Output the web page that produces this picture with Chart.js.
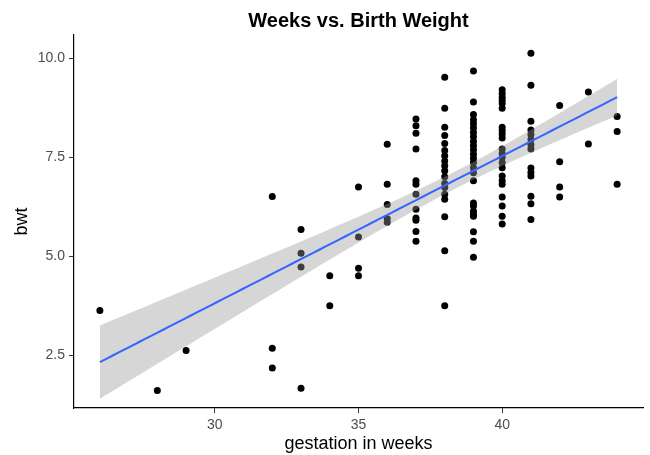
<!DOCTYPE html>
<html>
<head>
<meta charset="utf-8">
<script src="https://cdn.jsdelivr.net/npm/chart.js@4/dist/chart.umd.min.js"></script>
<style>
  html, body { margin: 0; padding: 0; background: #ffffff; }
  #wrap { width: 650px; height: 455px; }
</style>
</head>
<body>
<div id="wrap"><canvas id="c" width="650" height="455"></canvas></div>
<script>
// Gestation (weeks) and birth weight observations, grouped by week
const weeks = [26, 28, 29, 32, 33, 34, 35, 36, 37, 38, 39, 40, 41, 42, 43, 44];
const bwtByWeek = [
  [3.63],
  [1.61],
  [2.62],
  [6.51, 2.68, 2.18],
  [5.68, 5.08, 4.73, 1.67],
  [4.51, 3.75],
  [6.75, 5.49, 4.70, 4.51],
  [7.83, 6.82, 6.31, 5.95, 5.86],
  [8.47, 8.30, 8.11, 7.71, 6.91, 6.82, 6.57, 6.19, 5.97, 5.91, 5.63, 5.38],
  [9.52, 8.74, 8.26, 8.05, 7.85, 7.67, 7.54, 7.41, 7.29, 7.16, 7.01, 6.84, 6.74, 6.57, 6.44, 6.00, 5.14, 3.75],
  [9.68, 8.90, 8.58, 8.45, 8.35, 8.24, 8.13, 8.02, 7.90, 7.80, 7.69, 7.58, 7.47, 7.37, 7.24, 7.11, 6.91, 6.35, 6.27, 6.14, 6.06, 6.01, 5.62, 5.38, 4.98],
  [9.21, 9.11, 9.02, 8.94, 8.86, 8.74, 8.26, 8.18, 8.09, 7.99, 7.71, 7.60, 7.50, 7.37, 7.24, 7.03, 6.91, 6.82, 6.50, 6.27, 6.01, 5.82],
  [10.13, 9.32, 8.41, 8.19, 8.08, 7.95, 7.82, 7.71, 7.23, 7.12, 7.03, 6.52, 6.33, 5.93],
  [8.81, 7.39, 6.75, 6.50],
  [9.15, 7.84],
  [8.53, 8.15, 6.82]
];
const xTicks = [30, 35, 40];
const yTicks = [2.5, 5.0, 7.5, 10.0];

// Flatten into scatter points
const points = [];
weeks.forEach((w, i) => bwtByWeek[i].forEach(v => points.push({ x: w, y: v })));

// Ordinary least squares fit with 95% confidence band
const n = points.length;
const xbar = points.reduce((s, p) => s + p.x, 0) / n;
const ybar = points.reduce((s, p) => s + p.y, 0) / n;
let sxx = 0, sxy = 0;
points.forEach(p => { sxx += (p.x - xbar) ** 2; sxy += (p.x - xbar) * (p.y - ybar); });
const slope = sxy / sxx;
const intercept = ybar - slope * xbar;
let sse = 0;
points.forEach(p => { sse += (p.y - (intercept + slope * p.x)) ** 2; });
const sigma = Math.sqrt(sse / (n - 2));
const tCrit = 1.98;

const xLo = Math.min(...weeks), xHi = Math.max(...weeks);
const fitLine = [], bandUpper = [], bandLower = [];
const steps = 80;
for (let k = 0; k <= steps; k++) {
  const x = xLo + (xHi - xLo) * k / steps;
  const yh = intercept + slope * x;
  const se = sigma * Math.sqrt(1 / n + (x - xbar) ** 2 / sxx);
  fitLine.push({ x, y: yh });
  bandUpper.push({ x, y: yh + tCrit * se });
  bandLower.push({ x, y: yh - tCrit * se });
}

const fontFamily = '"Liberation Sans", Arial, sans-serif';

// Plot title centred over the panel
const panelTitle = {
  id: 'panelTitle',
  afterDraw(chart) {
    const { ctx, chartArea } = chart;
    ctx.save();
    ctx.font = 'bold 20px ' + fontFamily;
    ctx.fillStyle = '#000000';
    ctx.textAlign = 'center';
    ctx.textBaseline = 'alphabetic';
    ctx.fillText('Weeks vs. Birth Weight', (chartArea.left + chartArea.right) / 2, 27);
    ctx.restore();
  }
};

const tickFont = { family: fontFamily, size: 14 };
const titleFont = { family: fontFamily, size: 18 };

new Chart(document.getElementById('c'), {
  type: 'scatter',
  data: {
    datasets: [
      {
        label: 'fit',
        data: fitLine,
        showLine: true,
        borderColor: '#3366FF',
        borderWidth: 2,
        pointRadius: 0,
        fill: false,
        order: 0
      },
      {
        label: 'upper',
        data: bandUpper,
        showLine: true,
        borderWidth: 0,
        borderColor: 'rgba(0,0,0,0)',
        pointRadius: 0,
        backgroundColor: 'rgba(153,153,153,0.4)',
        fill: '+1',
        order: 1
      },
      {
        label: 'lower',
        data: bandLower,
        showLine: true,
        borderWidth: 0,
        borderColor: 'rgba(0,0,0,0)',
        pointRadius: 0,
        fill: false,
        order: 1
      },
      {
        label: 'bwt',
        data: points,
        backgroundColor: '#000000',
        borderWidth: 0,
        pointRadius: 3.5,
        order: 2
      }
    ]
  },
  options: {
    responsive: false,
    animation: false,
    devicePixelRatio: 1,
    layout: { padding: { top: 35, right: 7, left: 0, bottom: 0 } },
    plugins: {
      legend: { display: false },
      tooltip: { enabled: false },
      title: { display: false }
    },
    scales: {
      x: {
        type: 'linear',
        min: 25.1,
        max: 44.9,
        afterFit(scale) { scale.height = 47; },
        afterBuildTicks(scale) { scale.ticks = xTicks.map(v => ({ value: v })); },
        grid: { drawOnChartArea: false, drawTicks: true, tickLength: 5, color: '#333333', tickWidth: 1 },
        border: { display: true, color: '#000000', width: 1.2 },
        ticks: { color: '#4D4D4D', font: tickFont, padding: 4, maxRotation: 0, callback: v => String(v) },
        title: { display: true, text: 'gestation in weeks', color: '#000000', font: titleFont, padding: { top: 0, bottom: 0 } }
      },
      y: {
        type: 'linear',
        min: 1.17,
        max: 10.59,
        afterFit(scale) { scale.width = 74; },
        afterBuildTicks(scale) { scale.ticks = yTicks.map(v => ({ value: v })); },
        grid: { drawOnChartArea: false, drawTicks: true, tickLength: 5, color: '#333333', tickWidth: 1 },
        border: { display: true, color: '#000000', width: 1.2 },
        ticks: { color: '#4D4D4D', font: tickFont, padding: 4, callback: v => Number(v).toFixed(1) },
        title: { display: true, text: 'bwt', color: '#000000', font: titleFont, padding: { top: 11, bottom: 0 } }
      }
    }
  },
  plugins: [panelTitle]
});
</script>
</body>
</html>
